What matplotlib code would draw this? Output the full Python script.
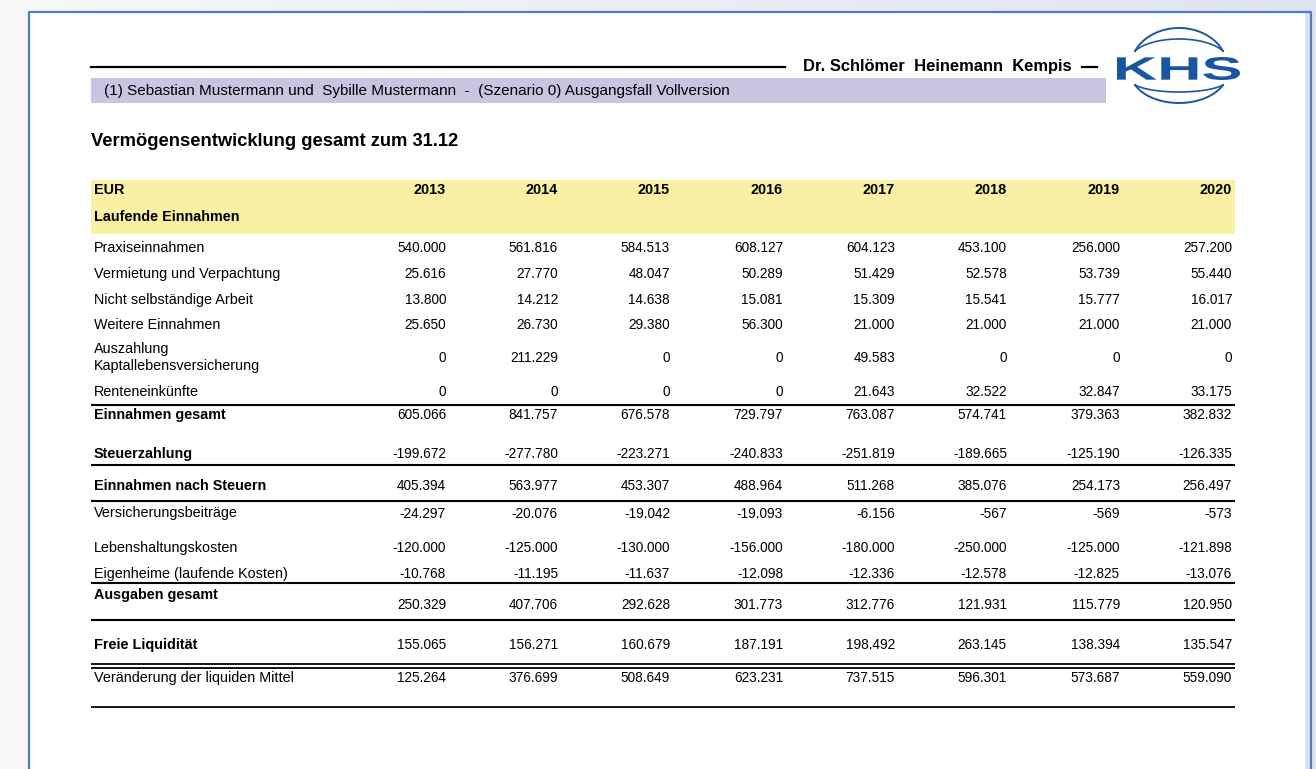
import numpy as np
import matplotlib.pyplot as plt
from matplotlib.patches import Rectangle, PathPatch
from matplotlib.textpath import TextPath
from matplotlib.font_manager import FontProperties
from matplotlib.transforms import Affine2D

# --- data -----------------------------------------------------------------
years = [2013, 2014, 2015, 2016, 2017, 2018, 2019, 2020]

praxis = [540000, 561816, 584513, 608127, 604123, 453100, 256000, 257200]
vermietung = [25616, 27770, 48047, 50289, 51429, 52578, 53739, 55440]
nicht_selbst = [13800, 14212, 14638, 15081, 15309, 15541, 15777, 16017]
weitere = [25650, 26730, 29380, 56300, 21000, 21000, 21000, 21000]
auszahlung = [0, 211229, 0, 0, 49583, 0, 0, 0]
renten = [0, 0, 0, 0, 21643, 32522, 32847, 33175]
einnahmen_gesamt = [605066, 841757, 676578, 729797, 763087, 574741, 379363, 382832]
steuer = [-199672, -277780, -223271, -240833, -251819, -189665, -125190, -126335]
nach_steuern = [405394, 563977, 453307, 488964, 511268, 385076, 254173, 256497]
versicherung = [-24297, -20076, -19042, -19093, -6156, -567, -569, -573]
lebenshaltung = [-120000, -125000, -130000, -156000, -180000, -250000, -125000, -121898]
eigenheime = [-10768, -11195, -11637, -12098, -12336, -12578, -12825, -13076]
ausgaben = [250329, 407706, 292628, 301773, 312776, 121931, 115779, 120950]
freie = [155065, 156271, 160679, 187191, 198492, 263145, 138394, 135547]
veraenderung = [125264, 376699, 508649, 623231, 737515, 596301, 573687, 559090]

header_text = "(1) Sebastian Mustermann und  Sybille Mustermann  -  (Szenario 0) Ausgangsfall Vollversion"
company = "Dr. Schlömer  Heinemann  Kempis"
title = "Vermögensentwicklung gesamt zum 31.12"

# (label, values, bold, label_y, value_y)
rows = [
    ("Praxiseinnahmen", praxis, False, 246, 246),
    ("Vermietung und Verpachtung", vermietung, False, 272, 272),
    ("Nicht selbständige Arbeit", nicht_selbst, False, 298, 298),
    ("Weitere Einnahmen", weitere, False, 323, 323),
    ("Auszahlung\nKaptallebensversicherung", auszahlung, False, 356, 356),
    ("Renteneinkünfte", renten, False, 390, 390),
    ("Einnahmen gesamt", einnahmen_gesamt, True, 413, 413),
    ("Steuerzahlung", steuer, True, 452, 452),
    ("Einnahmen nach Steuern", nach_steuern, True, 484, 484),
    ("Versicherungsbeiträge", versicherung, False, 511, 512),
    ("Lebenshaltungskosten", lebenshaltung, False, 546, 546),
    ("Eigenheime (laufende Kosten)", eigenheime, False, 572, 572),
    ("Ausgaben gesamt", ausgaben, True, 593, 603),
    ("Freie Liquidität", freie, True, 643, 643),
    ("Veränderung der liquiden Mittel", veraenderung, False, 676, 676),
]

col_right = [446, 558, 670, 783, 895, 1007, 1120, 1232]
rule_lines = [(405, 1.5), (465, 1.5), (501, 1.5), (583, 1.5), (620, 1.5),
              (663.5, 1.3), (667.5, 1.3), (707, 1.3)]


def fmt(v):
    return f"{v:,}".replace(",", ".")


plt.rcParams['font.family'] = ['Liberation Sans', 'DejaVu Sans']
fs_label = 10.4
fs_num = 9.8
dy = 1.8  # baseline nudge

fig = plt.figure(figsize=(13.16, 7.69), dpi=100)
ax = fig.add_axes([0, 0, 1, 1])
ax.set_xlim(0, 1316)
ax.set_ylim(769, 0)
ax.axis('off')

# background gradient + page
grad = np.linspace(0, 1, 256)[None, :]
bg = plt.matplotlib.colors.LinearSegmentedColormap.from_list('bg', ['#f8f8fa', '#dfe4f3'])
ax.imshow(grad, cmap=bg, extent=[0, 1316, 769, 0], aspect='auto', zorder=0)
ax.add_patch(Rectangle((29, 12), 1282, 800, facecolor='white', edgecolor='none', zorder=1))
ax.add_patch(Rectangle((1305, 13), 5, 800, facecolor='#dbe2f3', edgecolor='none', zorder=1))
ax.plot([29, 29, 1311, 1311], [780, 12, 12, 780], color='#4f7fc0', lw=1.6, zorder=2)

# header
ax.plot([91, 785], [67, 67], color='black', lw=1.6, zorder=3)
ax.text(1072, 66.5, company, ha='right', va='center', fontsize=11.9,
        fontweight='bold', zorder=3)
ax.plot([1082, 1097], [67, 67], color='black', lw=1.6, zorder=3)
ax.add_patch(Rectangle((91, 78), 1015, 25, facecolor='#c8c5e0', edgecolor='none', zorder=2))
ax.text(104, 91, header_text, ha='left', va='center', fontsize=11.0, zorder=3)

# KHS logo
blue = '#1a56a0'
tp = TextPath((0, 0), "KHS", size=1,
              prop=FontProperties(family='Liberation Sans', weight='bold'))
ext = tp.get_extents()
x0, x1, y0, y1 = 1117, 1240, 57, 80
tr = (Affine2D().translate(-ext.x0, -ext.y0)
      .scale((x1 - x0) / ext.width, -(y1 - y0) / ext.height)
      .translate(x0, y1))
ax.add_patch(PathPatch(tr.transform_path(tp), facecolor=blue, edgecolor='none', zorder=3))

t0 = np.radians(25)
th = np.linspace(t0, np.pi - t0, 80)
s = (np.sin(th) - np.sin(t0)) / (1 - np.sin(t0))
lx = 1179 + 48.5 * np.cos(th)
# swooshes: (end y, outer height, inner height, direction)
for yend, h_out, h_in, sgn in [(51, 23, 12, -1), (85, 18, 7, 1)]:
    ax.plot(lx, yend + sgn * h_out * s, color=blue, lw=1.4, zorder=3)
    ax.plot(lx, yend + sgn * h_in * s, color=blue, lw=1.2, zorder=3)

# title
ax.text(91, 142, title, ha='left', va='center', fontsize=13.2,
        fontweight='bold', zorder=3)

# table header
ax.add_patch(Rectangle((91, 180), 1144, 54, facecolor='#f8f0a2', edgecolor='none', zorder=2))
ax.text(94, 188 + dy, "EUR", ha='left', va='center', fontsize=fs_label,
        fontweight='bold', zorder=3)
for xr, yr in zip(col_right, years):
    ax.text(xr, 188 + dy, str(yr), ha='right', va='center', fontsize=fs_label,
            fontweight='bold', zorder=3)
ax.text(94, 215 + dy, "Laufende Einnahmen", ha='left', va='center', fontsize=fs_label,
        fontweight='bold', zorder=3)

# table body
for label, vals, bold, ly, vy in rows:
    w = 'bold' if bold else 'normal'
    ax.text(94, ly + dy, label, ha='left', va='center', fontsize=fs_label, fontweight=w,
            linespacing=1.25, zorder=3)
    for xr, v in zip(col_right, vals):
        ax.text(xr, vy + dy, fmt(v), ha='right', va='center', fontsize=fs_num, zorder=3)

for y, lw in rule_lines:
    ax.plot([91, 1235], [y, y], color='black', lw=lw, solid_capstyle='butt', zorder=3)

fig.savefig('out.png', dpi=100)
